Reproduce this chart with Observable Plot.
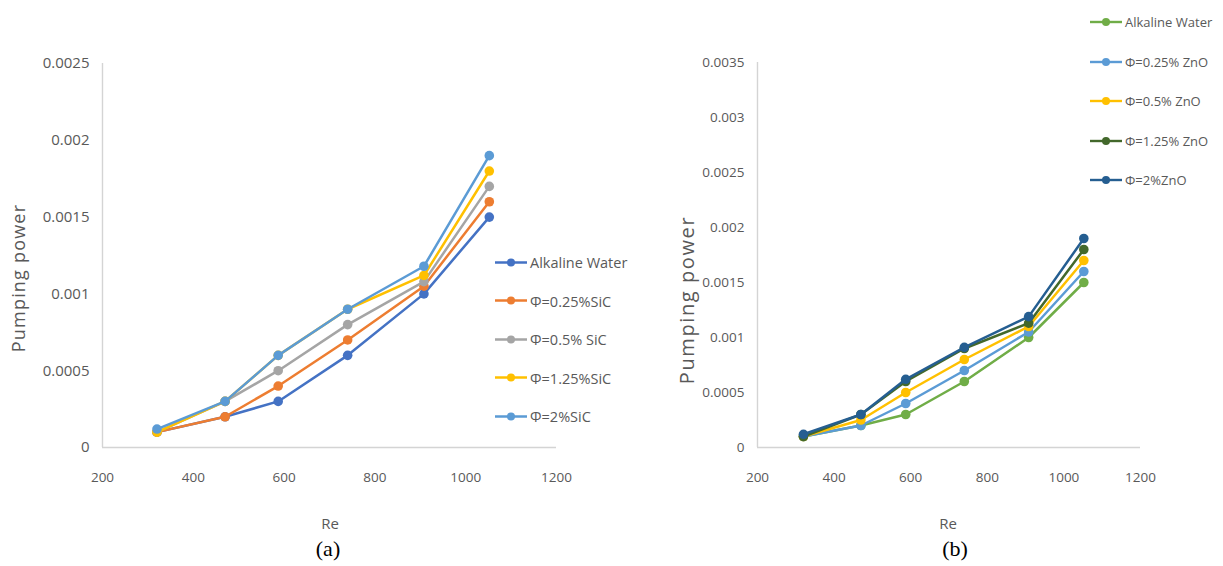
<!DOCTYPE html>
<html><head><meta charset="utf-8">
<script src="https://cdn.jsdelivr.net/npm/d3@7"></script>
<script src="https://cdn.jsdelivr.net/npm/@observablehq/plot@0.6"></script>
<style>
body{margin:0;background:#fff;}
#wrap{position:relative;width:1223px;height:566px;overflow:hidden;font-family:"Open Sans",sans-serif;color:#595959;}
.abs{position:absolute;white-space:nowrap;}
.ctr{transform:translate(-50%,-50%);}
.rot{transform:translate(-50%,-50%) rotate(-90deg);}
.leg{display:flex;align-items:center;}
.leg svg{margin-right:3px;}
</style></head><body><div id="wrap"></div>
<script>
// ---- data ----
const re = [320, 470, 587, 740, 908, 1052];
const xTicks = [200, 400, 600, 800, 1000, 1200];
const yTicksA = [0, 0.0005, 0.001, 0.0015, 0.002, 0.0025];
const yTicksB = [0, 0.0005, 0.001, 0.0015, 0.002, 0.0025, 0.003, 0.0035];

const seriesA = ["Alkaline Water", "Φ=0.25%SiC", "Φ=0.5% SiC", "Φ=1.25%SiC", "Φ=2%SiC"];
const colorsA = ["#4472C4", "#ED7D31", "#A5A5A5", "#FFC000", "#5B9BD5"];
const alkalineA = [0.0001, 0.0002, 0.0003, 0.0006, 0.001, 0.0015];
const sic025 = [0.0001, 0.0002, 0.0004, 0.0007, 0.00105, 0.0016];
const sic05 = [0.0001, 0.0003, 0.0005, 0.0008, 0.00108, 0.0017];
const sic125 = [0.0001, 0.0003, 0.0006, 0.0009, 0.00112, 0.0018];
const sic2 = [0.00012, 0.0003, 0.0006, 0.0009, 0.00118, 0.0019];

const seriesB = ["Alkaline Water", "Φ=0.25% ZnO", "Φ=0.5% ZnO", "Φ=1.25% ZnO", "Φ=2%ZnO"];
const colorsB = ["#70AD47", "#5B9BD5", "#FFC000", "#43682B", "#255E91"];
const alkalineB = [0.0001, 0.0002, 0.0003, 0.0006, 0.001, 0.0015];
const zno025 = [0.0001, 0.0002, 0.0004, 0.0007, 0.00105, 0.0016];
const zno05 = [0.0001, 0.00025, 0.0005, 0.0008, 0.0011, 0.0017];
const zno125 = [0.0001, 0.0003, 0.0006, 0.0009, 0.00113, 0.0018];
const zno2 = [0.00012, 0.0003, 0.00062, 0.00091, 0.00119, 0.0019];

const valuesA = [alkalineA, sic025, sic05, sic125, sic2];
const valuesB = [alkalineB, zno025, zno05, zno125, zno2];

function tidy(series, values) {
  return series.map((s, i) => values[i].map((v, j) => ({s, re: re[j], v})));
}

const wrap = document.getElementById("wrap");

function chart(cfg) {
  const groups = tidy(cfg.series, cfg.values);
  const marks = [
    Plot.ruleY([0], {stroke: "#d4d4d4", strokeWidth: 1.4}),
    Plot.ruleX([xTicks[0]], {stroke: "#d4d4d4", strokeWidth: 1.4}),
    Plot.axisY(cfg.yTicks, {tickSize: 0, tickPadding: cfg.padY, tickFormat: d => String(d), fontSize: cfg.fsY, label: null, fill: "#595959"}),
    Plot.axisX(xTicks, {tickSize: 0, tickPadding: 25, tickFormat: d => String(d), fontSize: cfg.fsX, label: null, fill: "#595959"})
  ];
  groups.forEach(g => {
    marks.push(Plot.line(g, {x: "re", y: "v", stroke: "s", strokeWidth: 2.5}));
    marks.push(Plot.dot(g, {x: "re", y: "v", fill: "s", r: 4.8}));
  });
  const svg = Plot.plot({
    width: cfg.width, height: cfg.height,
    marginLeft: cfg.mL, marginRight: cfg.mR, marginTop: cfg.mT, marginBottom: cfg.mB,
    style: {fontFamily: "'Open Sans', sans-serif", color: "#595959", background: "transparent", overflow: "visible"},
    x: {domain: [xTicks[0], xTicks[xTicks.length - 1]]},
    y: {domain: [0, cfg.yTicks[cfg.yTicks.length - 1]]},
    color: {domain: cfg.series, range: cfg.colors},
    marks
  });
  const holder = document.createElement("div");
  holder.className = "abs";
  holder.style.left = cfg.left + "px";
  holder.style.top = "0px";
  holder.appendChild(svg);
  wrap.appendChild(holder);
}

chart({series: seriesA, values: valuesA, colors: colorsA, yTicks: yTicksA,
  left: 0, width: 600, height: 500, mL: 102, mR: 44, mT: 63, mB: 53, fsY: 15, fsX: 13.5, padY: 13});
chart({series: seriesB, values: valuesB, colors: colorsB, yTicks: yTicksB,
  left: 620, width: 600, height: 500, mL: 137, mR: 80, mT: 62, mB: 53, fsY: 13.5, fsX: 13.5, padY: 13});

function legend(series, colors, x, y0, step, fs) {
  series.forEach((s, i) => {
    const d = document.createElement("div");
    d.className = "abs leg";
    d.style.left = x + "px";
    d.style.top = (y0 + i * step) + "px";
    d.style.transform = "translateY(-50%)";
    d.style.fontSize = fs + "px";
    d.innerHTML = `<svg width="32" height="12"><line x1="0" y1="6" x2="32" y2="6" stroke="${colors[i]}" stroke-width="2.4"/><circle cx="16" cy="6" r="4" fill="${colors[i]}"/></svg><span>${s}</span>`;
    wrap.appendChild(d);
  });
}
legend(seriesA, colorsA, 495, 262, 38.5, 14.5);
legend(seriesB, colorsB, 1090, 22, 39.5, 13);

function text(t, x, y, cls, style) {
  const d = document.createElement("div");
  d.className = "abs " + cls;
  d.style.left = x + "px";
  d.style.top = y + "px";
  Object.assign(d.style, style);
  d.textContent = t;
  wrap.appendChild(d);
}
text("Pumping power", 18, 278, "rot", {fontSize: "18px", letterSpacing: "1.2px"});
text("Pumping power", 686, 300, "rot", {fontSize: "20px", letterSpacing: "1.6px"});
text("Re", 330, 523, "ctr", {fontSize: "15px"});
text("Re", 948, 523, "ctr", {fontSize: "15px"});
text("(a)", 328, 549, "ctr", {fontSize: "22px", fontFamily: "'Liberation Serif', serif", color: "#000"});
text("(b)", 955, 549, "ctr", {fontSize: "22px", fontFamily: "'Liberation Serif', serif", color: "#000"});
</script></body></html>
